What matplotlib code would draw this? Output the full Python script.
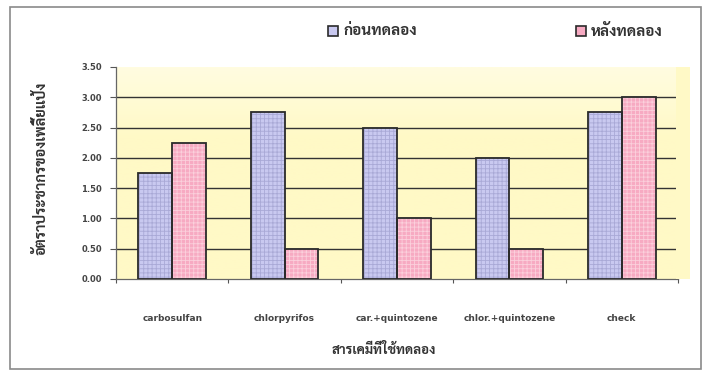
import matplotlib
matplotlib.use("Agg")
import matplotlib.pyplot as plt
import numpy as np
from matplotlib.patches import Rectangle
from matplotlib.colors import LinearSegmentedColormap

categories = ["carbosulfan", "chlorpyrifos", "car.+quintozene", "chlor.+quintozene", "check"]
before = [1.75, 2.75, 2.50, 2.00, 2.75]
after = [2.25, 0.50, 1.00, 0.50, 3.00]
series_names = ["ก่อนทดลอง", "หลังทดลอง"]
y_ticks = [0.0, 0.5, 1.0, 1.5, 2.0, 2.5, 3.0, 3.5]
y_label = "อัตราประชากรของเพลี้ยแป้ง"
x_label = "สารเคมีที่ใช้ทดลอง"

thai = ["Sarabun", "Noto Sans Thai", "DejaVu Sans"]
W, H = 704, 373
fig = plt.figure(figsize=(W / 100, H / 100), dpi=100)
fig.patch.set_facecolor("white")

def fx(px):
    return px / W

def fy(py):
    return 1 - py / H

# outer chart border
fig.patches.append(Rectangle((fx(10), fy(369)), fx(701) - fx(10), fy(7) - fy(369),
                             transform=fig.transFigure, fill=False,
                             edgecolor="#8a8a8a", linewidth=1.2, zorder=0))
# plot-area background slightly beyond right end
fig.patches.append(Rectangle((fx(676), fy(279)), fx(690) - fx(676), fy(67) - fy(279),
                             transform=fig.transFigure, facecolor="#fff9c6",
                             edgecolor="none", zorder=0))

L, R, T, B = 116, 678, 67, 279
ax = fig.add_axes([fx(L), fy(B), fx(R) - fx(L), fy(T) - fy(B)])
ax.set_facecolor("#fff9c6")
grad = np.linspace(0, 1, 100).reshape(-1, 1)
cmap = LinearSegmentedColormap.from_list("bg", ["#fff9c6", "#fff9c6", "#fff9c6", "#fffce0"])
ax.imshow(grad, extent=[0, 5, 0, 3.5], aspect="auto", cmap=cmap, origin="lower", zorder=0)

n = len(categories)
x = np.arange(n) + 0.5
bw = 0.3
blue_fc, blue_hc = "#c9c9f0", "#a9a9d6"
pink_fc, pink_hc = "#f7aac2", "#fbd0dc"
edge = "#2a2a2a"
plt.rcParams["hatch.linewidth"] = 0.6

for vals, off, fc, hc in [(before, -bw / 2, blue_fc, blue_hc), (after, bw / 2, pink_fc, pink_hc)]:
    ax.bar(x + off, vals, bw, color=fc, edgecolor=hc, hatch="++++", linewidth=0, zorder=3)
    ax.bar(x + off, vals, bw, fill=False, edgecolor=edge, linewidth=1.3, zorder=4)

ax.set_xlim(0, n)
ax.set_ylim(0, 3.5)
ax.set_yticks(y_ticks)
ax.set_yticklabels([f"{v:.2f}" for v in y_ticks], fontsize=6, fontweight="bold", color="#444444")
ax.set_xticks(np.arange(n + 1))
ax.set_xticklabels([])
ax.set_xticks(x, minor=True)
ax.set_xticklabels(categories, minor=True, fontsize=6.5, fontweight="bold", color="#444444")
ax.tick_params(axis="x", which="minor", length=0, pad=25)
ax.tick_params(axis="x", which="major", length=3, width=0.8, color="#555555")
ax.tick_params(axis="y", length=4, width=0.8, color="#555555", pad=6)

for v in y_ticks[1:-1]:
    ax.axhline(v, color="#333333", linewidth=1.0, zorder=1)

for s in ["top", "right"]:
    ax.spines[s].set_visible(False)
for s in ["left", "bottom"]:
    ax.spines[s].set_color("#666666")
    ax.spines[s].set_linewidth(0.9)

fig.text(fx(41), fy(168), y_label, rotation=90, ha="center", va="center",
         family=thai, fontsize=10.5, fontweight="bold", color="#333333")
fig.text(fx(384), fy(350), x_label, ha="center", va="center",
         family=thai, fontsize=9.5, fontweight="bold", color="#333333")

# legend
for (cx, name, fc, hc) in [(333, series_names[0], blue_fc, blue_hc), (581, series_names[1], pink_fc, pink_hc)]:
    fig.patches.append(Rectangle((fx(cx - 5), fy(36)), fx(10), fy(26) - fy(36),
                                 transform=fig.transFigure, facecolor=fc, edgecolor=edge,
                                 linewidth=1.2, zorder=5))
    fig.text(fx(cx + 10), fy(31), name, ha="left", va="center", family=thai,
             fontsize=11, fontweight="bold", color="#333333")

fig.savefig("out.png", dpi=100)
